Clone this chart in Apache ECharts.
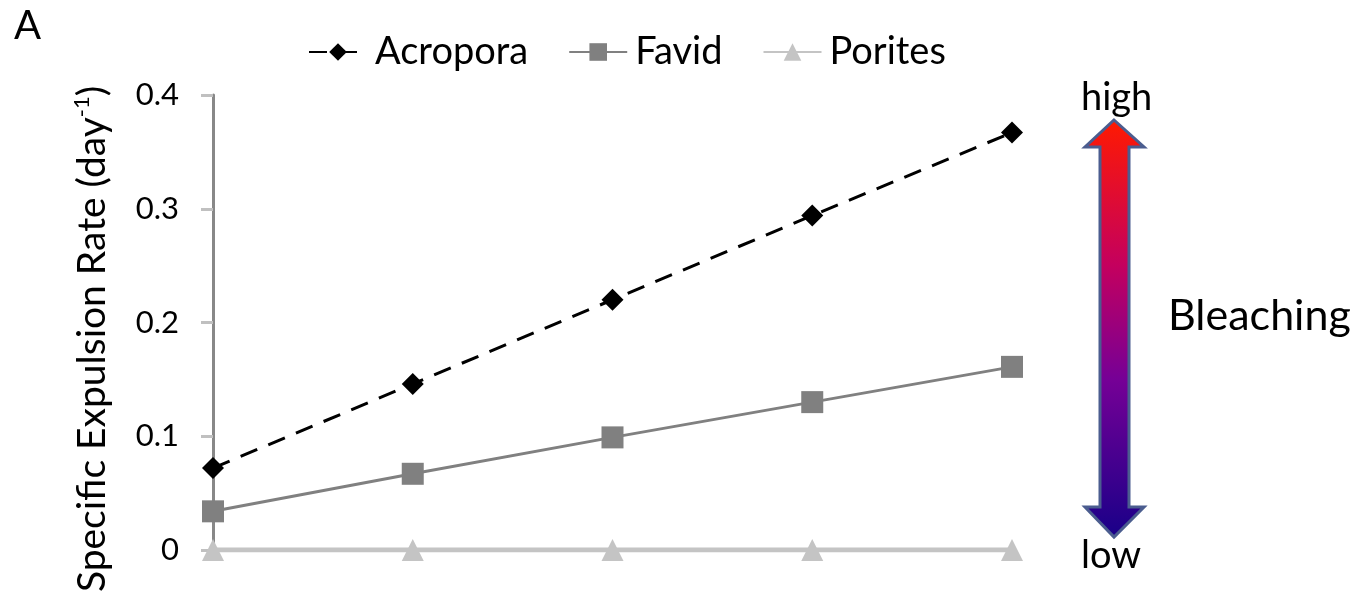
<!DOCTYPE html>
<html>
<head>
<meta charset="utf-8">
<script src="https://cdn.jsdelivr.net/npm/echarts@6/dist/echarts.min.js"></script>
<style>
  html, body { margin: 0; padding: 0; background: #fff; }
  #chart { width: 1356px; height: 593px; }
</style>
</head>
<body>
<div id="chart"></div>
<script>
// Treatment levels along the x axis (axis labels are not shown)
const categories = ['1', '2', '3', '4', '5'];

// Specific expulsion rate (day^-1) for each coral group
const acropora = [0.072, 0.146, 0.220, 0.294, 0.367];
const favid    = [0.034, 0.067, 0.099, 0.130, 0.161];
const porites  = [0.000, 0.000, 0.000, 0.000, 0.000];

// Y axis scale
const yTicks = { min: 0, max: 0.4, interval: 0.1 };

const FONT = 'Lato, "Open Sans", sans-serif';

const chart = echarts.init(document.getElementById('chart'), null, { renderer: 'canvas' });

chart.setOption({
  backgroundColor: '#ffffff',
  animation: false,
  textStyle: { fontFamily: FONT, color: '#000' },
  legend: {
    top: 28,
    left: 303,
    itemWidth: 58,
    itemHeight: 22,
    itemGap: 40,
    textStyle: { fontFamily: FONT, fontSize: 38, color: '#000', padding: [0, 0, 0, 3] },
    data: ['Acropora', 'Favid', 'Porites']
  },
  grid: { left: 213, right: 344, top: 95, bottom: 43, containLabel: false },
  xAxis: {
    type: 'category',
    data: categories,
    boundaryGap: false,
    axisLine: { show: true, lineStyle: { color: '#c0c0c0', width: 3 } },
    axisTick: { show: false },
    axisLabel: { show: false },
    splitLine: { show: false }
  },
  yAxis: {
    type: 'value',
    min: yTicks.min,
    max: yTicks.max,
    interval: yTicks.interval,
    axisLine: { show: true, lineStyle: { color: '#888888', width: 3 } },
    axisTick: { show: true, length: 12, lineStyle: { color: '#c0c0c0', width: 3 } },
    axisLabel: { fontFamily: FONT, fontSize: 31, color: '#000', margin: 34 },
    splitLine: { show: false }
  },
  series: [
    {
      name: 'Porites',
      type: 'line',
      data: porites,
      z: 2,
      symbol: 'triangle',
      symbolSize: 22,
      lineStyle: { color: '#c4c4c4', width: 5 },
      itemStyle: { color: '#c4c4c4' }
    },
    {
      name: 'Favid',
      type: 'line',
      data: favid,
      z: 3,
      symbol: 'rect',
      symbolSize: 22,
      lineStyle: { color: '#808080', width: 3 },
      itemStyle: { color: '#808080' }
    },
    {
      name: 'Acropora',
      type: 'line',
      data: acropora,
      z: 4,
      symbol: 'diamond',
      symbolSize: 22,
      lineStyle: { color: '#000000', width: 3, type: [18, 12] },
      itemStyle: { color: '#000000' }
    }
  ],
  graphic: [
    // Panel letter
    {
      type: 'text', left: 14, top: 6,
      style: { text: 'A', fontFamily: FONT, fontSize: 40, fill: '#000' }
    },
    // Y axis title with superscript
    {
      type: 'text',
      x: 92, y: 339,
      rotation: Math.PI / 2,
      style: {
        text: '{a|Specific Expulsion Rate (day}{s|-1}{a|)}',
        align: 'center',
        verticalAlign: 'middle',
        fontFamily: FONT,
        fill: '#000',
        rich: {
          a: { fontFamily: FONT, fontSize: 39, lineHeight: 42, fill: '#000' },
          s: { fontFamily: FONT, fontSize: 22, lineHeight: 42, verticalAlign: 'top', fill: '#000' }
        }
      }
    },
    // Double-headed bleaching arrow
    {
      type: 'polygon',
      shape: {
        points: [
          [1114, 120], [1144, 147], [1129, 147], [1129, 507], [1144, 507],
          [1114, 537], [1085, 507], [1100, 507], [1100, 147], [1085, 147]
        ]
      },
      style: {
        fill: new echarts.graphic.LinearGradient(0, 0, 0, 1, [
          { offset: 0, color: '#ff1a00' },
          { offset: 0.35, color: '#c4005e' },
          { offset: 0.62, color: '#760096' },
          { offset: 1, color: '#180088' }
        ]),
        stroke: '#4b5d8f',
        lineWidth: 3
      }
    },
    {
      type: 'text', x: 1081, y: 98,
      style: { text: 'high', fontFamily: FONT, fontSize: 38, fill: '#000', verticalAlign: 'middle' }
    },
    {
      type: 'text', x: 1081, y: 556,
      style: { text: 'low', fontFamily: FONT, fontSize: 38, fill: '#000', verticalAlign: 'middle' }
    },
    {
      type: 'text', x: 1168, y: 316,
      style: { text: 'Bleaching', fontFamily: FONT, fontSize: 43, fill: '#000', verticalAlign: 'middle' }
    }
  ]
});
</script>
</body>
</html>
